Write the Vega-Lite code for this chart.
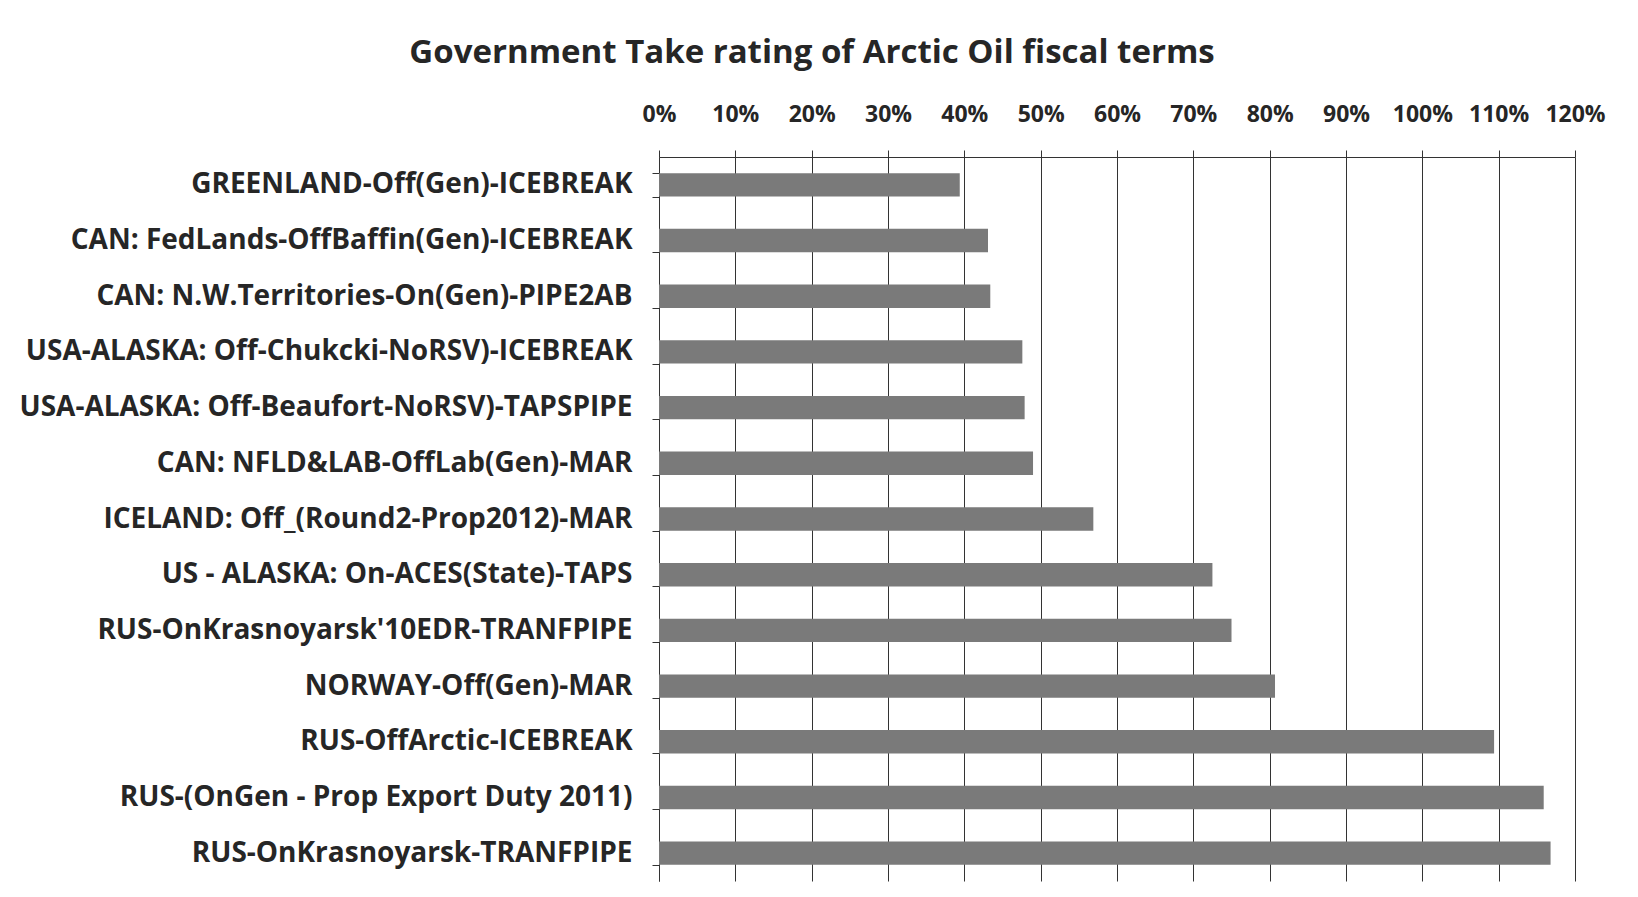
{
  "$schema": "https://vega.github.io/schema/vega-lite/v6.json",
  "width": 916,
  "height": 724,
  "autosize": {"type": "none"},
  "padding": {"left": 659, "top": 157, "right": 63, "bottom": 16},
  "background": "white",
  "title": {
    "text": "Government Take rating of Arctic Oil fiscal terms",
    "anchor": "middle",
    "frame": "bounds",
    "font": "Open Sans",
    "fontSize": 33,
    "fontWeight": "bold",
    "color": "#262626",
    "offset": 33
  },
  "data": {
    "values": [
      {"regime": "GREENLAND-Off(Gen)-ICEBREAK", "take": 0.394},
      {"regime": "CAN: FedLands-OffBaffin(Gen)-ICEBREAK", "take": 0.431},
      {"regime": "CAN: N.W.Territories-On(Gen)-PIPE2AB", "take": 0.434},
      {"regime": "USA-ALASKA: Off-Chukcki-NoRSV)-ICEBREAK", "take": 0.476},
      {"regime": "USA-ALASKA: Off-Beaufort-NoRSV)-TAPSPIPE", "take": 0.479},
      {"regime": "CAN: NFLD&LAB-OffLab(Gen)-MAR", "take": 0.490},
      {"regime": "ICELAND: Off_(Round2-Prop2012)-MAR", "take": 0.569},
      {"regime": "US - ALASKA: On-ACES(State)-TAPS", "take": 0.725},
      {"regime": "RUS-OnKrasnoyarsk'10EDR-TRANFPIPE", "take": 0.750},
      {"regime": "NORWAY-Off(Gen)-MAR", "take": 0.807},
      {"regime": "RUS-OffArctic-ICEBREAK", "take": 1.094},
      {"regime": "RUS-(OnGen - Prop Export Duty 2011)", "take": 1.159},
      {"regime": "RUS-OnKrasnoyarsk-TRANFPIPE", "take": 1.168}
    ]
  },
  "mark": {"type": "bar", "color": "#7a7a7a"},
  "encoding": {
    "y": {
      "field": "regime",
      "type": "nominal",
      "sort": null,
      "scale": {"paddingInner": 0.58},
      "axis": {
        "title": null,
        "tickBand": "extent",
        "labelFont": "Open Sans",
        "labelFontSize": 28,
        "labelFontWeight": "bold",
        "labelColor": "#262626",
        "labelLimit": 800,
        "labelPadding": 20,
        "tickSize": 7,
        "tickColor": "#333333",
        "domainColor": "#333333",
        "grid": false
      }
    },
    "x": {
      "field": "take",
      "type": "quantitative",
      "scale": {"domain": [0, 1.2], "nice": false},
      "axis": {
        "orient": "top",
        "title": null,
        "format": ".0%",
        "values": [0, 0.1, 0.2, 0.3, 0.4, 0.5, 0.6, 0.7, 0.8, 0.9, 1.0, 1.1, 1.2],
        "labelOverlap": false,
        "labelFlush": false,
        "labelFont": "Open Sans",
        "labelFontSize": 23,
        "labelFontWeight": "bold",
        "labelColor": "#262626",
        "labelPadding": 24,
        "tickSize": 7,
        "tickColor": "#333333",
        "domainColor": "#333333",
        "grid": true,
        "gridColor": "#333333",
        "gridWidth": 1,
        "gridOpacity": 1
      }
    }
  },
  "config": {"view": {"stroke": null}}
}
